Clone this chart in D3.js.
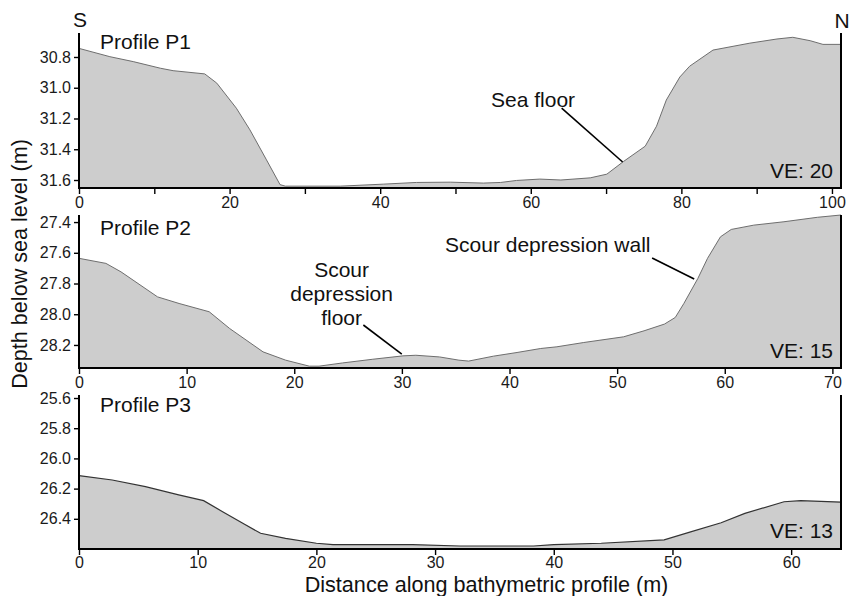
<!DOCTYPE html>
<html>
<head>
<meta charset="utf-8">
<script src="https://cdn.jsdelivr.net/npm/d3@7"></script>
<style>
  html, body { margin: 0; padding: 0; background: #fff; }
  svg { display: block; font-family: "Liberation Sans", Arial, sans-serif; }
</style>
</head>
<body>
<svg id="chart" width="856" height="596"></svg>
<script>
// ---- Data ----
const p1Dist = [0, 4.1, 7.2, 10.8, 12.5, 16.7, 18.3, 20.9, 22.7, 24.9, 26.7, 27.4, 34.7, 40.4, 44.8, 49.3, 53.7, 56, 58.1, 61.2, 64, 67.9, 70.1, 72.3, 75.2, 76.7, 78, 79.8, 81.1, 84.2, 89.1, 92.7, 94.8, 97.1, 98.8, 101.2];
const p1Depth = [30.744, 30.798, 30.83, 30.873, 30.889, 30.91, 30.97, 31.133, 31.274, 31.469, 31.63, 31.64, 31.64, 31.627, 31.616, 31.614, 31.62, 31.616, 31.603, 31.594, 31.6, 31.586, 31.562, 31.48, 31.38, 31.25, 31.08, 30.93, 30.86, 30.755, 30.71, 30.683, 30.672, 30.694, 30.718, 30.718];

const p2Dist = [0, 2.5, 3.9, 7.3, 9.3, 12.1, 14, 17.1, 19.2, 21.4, 22.3, 24.5, 27.3, 30.1, 31.3, 33.5, 35.3, 36.2, 38.5, 40.7, 42.9, 44.4, 46.9, 50.6, 52.5, 54.4, 55.4, 56.2, 57.5, 58.4, 59.6, 60.6, 62.7, 65.5, 68.6, 70.8];
const p2Depth = [27.636, 27.669, 27.724, 27.887, 27.93, 27.984, 28.093, 28.245, 28.299, 28.338, 28.338, 28.317, 28.293, 28.271, 28.267, 28.278, 28.299, 28.305, 28.273, 28.249, 28.223, 28.212, 28.184, 28.147, 28.108, 28.064, 28.021, 27.93, 27.767, 27.636, 27.496, 27.448, 27.42, 27.398, 27.369, 27.354];

const p3Dist = [0, 2.8, 5.6, 8.4, 10.5, 12.1, 13.8, 15.3, 17.4, 20, 21.4, 28.1, 32.1, 38.3, 40, 44, 49.3, 51.6, 54.1, 56.1, 59.4, 60.8, 64.2];
const p3Depth = [26.114, 26.143, 26.187, 26.242, 26.28, 26.353, 26.43, 26.496, 26.53, 26.562, 26.571, 26.571, 26.58, 26.58, 26.571, 26.562, 26.54, 26.485, 26.426, 26.364, 26.287, 26.28, 26.289];

const p1XDomain = [0, 101.2], p1YDomain = [30.644, 31.652];
const p2XDomain = [0, 70.8],  p2YDomain = [27.354, 28.35];
const p3XDomain = [0, 64.2],  p3YDomain = [25.58, 26.6];

const p1XTicks = [0, 10, 20, 30, 40, 50, 60, 70, 80, 90, 100];
const p1XLabels = [0, 20, 40, 60, 80, 100];
const p2XTicks = [0, 10, 20, 30, 40, 50, 60, 70];
const p3XTicks = [0, 10, 20, 30, 40, 50, 60];
const p1YTicks = [30.8, 31.0, 31.2, 31.4, 31.6];
const p2YTicks = [27.4, 27.6, 27.8, 28.0, 28.2];
const p3YTicks = [25.6, 25.8, 26.0, 26.2, 26.4];

const titles = ["Profile P1", "Profile P2", "Profile P3"];
const veLabels = ["VE: 20", "VE: 15", "VE: 13"];

// annotations: [text lines], label anchor (data), leader from/to (data)
const annotations = [
  { panel: 0, lines: ["Sea floor"], anchor: "middle", at: [60.3, 31.125], from: [64.1, 31.132], to: [72.2, 31.483] },
  { panel: 1, lines: ["Scour depression wall"], anchor: "end", at: [53.1, 27.592], from: [53.25, 27.634], to: [57.16, 27.771] },
  { panel: 1, lines: ["Scour", "depression", "floor"], anchor: "middle", at: [24.4, 27.757], from: [26.42, 28.07], to: [29.99, 28.259] }
];

// ---- Layout ----
const svg = d3.select("#chart");
const left = 79, right = 841;
const panels = [
  { dist: p1Dist, depth: p1Depth, xd: p1XDomain, yd: p1YDomain, top: 33, bottom: 188, xt: p1XTicks, xl: p1XLabels, yt: p1YTicks, stroke: "#6e6e6e", sw: 1, titleY: 49, veY: 178, pad: 3 },
  { dist: p2Dist, depth: p2Depth, xd: p2XDomain, yd: p2YDomain, top: 215, bottom: 368, xt: p2XTicks, xl: p2XTicks, yt: p2YTicks, stroke: "#6e6e6e", sw: 1, titleY: 235, veY: 358, pad: 3 },
  { dist: p3Dist, depth: p3Depth, xd: p3XDomain, yd: p3YDomain, top: 395, bottom: 549, xt: p3XTicks, xl: p3XTicks, yt: p3YTicks, stroke: "#333", sw: 1.2, titleY: 412, veY: 538, pad: 1.5 }
];

panels.forEach((p, i) => {
  const x = d3.scaleLinear().domain(p.xd).range([left, right]);
  const y = d3.scaleLinear().domain(p.yd).range([p.top, p.bottom]);
  p.x = x; p.y = y;
  const data = p.dist.map((d, k) => ({ d, z: p.depth[k] }));
  const g = svg.append("g");

  g.append("path").datum(data)
    .attr("fill", "#cdcdcd")
    .attr("d", d3.area().x(e => x(e.d)).y0(p.bottom).y1(e => y(e.z)));
  g.append("path").datum(data)
    .attr("fill", "none").attr("stroke", p.stroke).attr("stroke-width", p.sw)
    .attr("d", d3.line().x(e => x(e.d)).y(e => y(e.z)));

  // x axis
  const xa = g.append("g").attr("transform", `translate(0,${p.bottom})`)
    .call(d3.axisBottom(x).tickValues(p.xt).tickSize(6).tickPadding(p.pad)
      .tickFormat(v => p.xl.includes(v) ? d3.format("d")(v) : ""));
  // y axis
  const ya = g.append("g").attr("transform", `translate(${left},0)`)
    .call(d3.axisLeft(y).tickValues(p.yt).tickSize(5).tickPadding(3).tickFormat(d3.format(".1f")));
  [xa, ya].forEach(a => {
    a.select(".domain").remove();
    a.selectAll(".tick line").attr("stroke", "#000").attr("stroke-width", 1.4);
    a.selectAll(".tick text").attr("fill", "#1a1a1a").style("font-size", "16px")
      .style("font-family", "'Liberation Sans', Arial, sans-serif");
  });
  // frame lines: left, bottom, right
  g.append("path")
    .attr("d", `M${left},${p.top}V${p.bottom}H${right}V${p.top}`)
    .attr("fill", "none").attr("stroke", "#000").attr("stroke-width", 2);

  g.append("text").attr("x", 100).attr("y", p.titleY).text(titles[i])
    .style("font-size", "21px").attr("fill", "#111");
  g.append("text").attr("x", 833).attr("y", p.veY).attr("text-anchor", "end").text(veLabels[i])
    .style("font-size", "21px").attr("fill", "#111");
});

// annotations
annotations.forEach(a => {
  const p = panels[a.panel];
  const t = svg.append("text").attr("text-anchor", a.anchor).attr("fill", "#111").style("font-size", "21px");
  a.lines.forEach((ln, k) => {
    t.append("tspan").attr("x", p.x(a.at[0])).attr("y", p.y(a.at[1]) + k * 24).text(ln);
  });
  svg.append("line")
    .attr("x1", p.x(a.from[0])).attr("y1", p.y(a.from[1]))
    .attr("x2", p.x(a.to[0])).attr("y2", p.y(a.to[1]))
    .attr("stroke", "#000").attr("stroke-width", 1.6);
});

// S / N
svg.append("text").attr("x", 80).attr("y", 27).attr("text-anchor", "middle").text("S").style("font-size", "21px").attr("fill", "#111");
svg.append("text").attr("x", 842).attr("y", 28).attr("text-anchor", "middle").text("N").style("font-size", "21px").attr("fill", "#111");

// axis titles
svg.append("text").attr("x", 486.5).attr("y", 591.5).attr("text-anchor", "middle")
  .text("Distance along bathymetric profile (m)").style("font-size", "21.6px").attr("fill", "#111");
svg.append("text").attr("transform", "translate(27,264) rotate(-90)").attr("text-anchor", "middle")
  .text("Depth below sea level (m)").style("font-size", "21.6px").attr("fill", "#111");
</script>
</body>
</html>
